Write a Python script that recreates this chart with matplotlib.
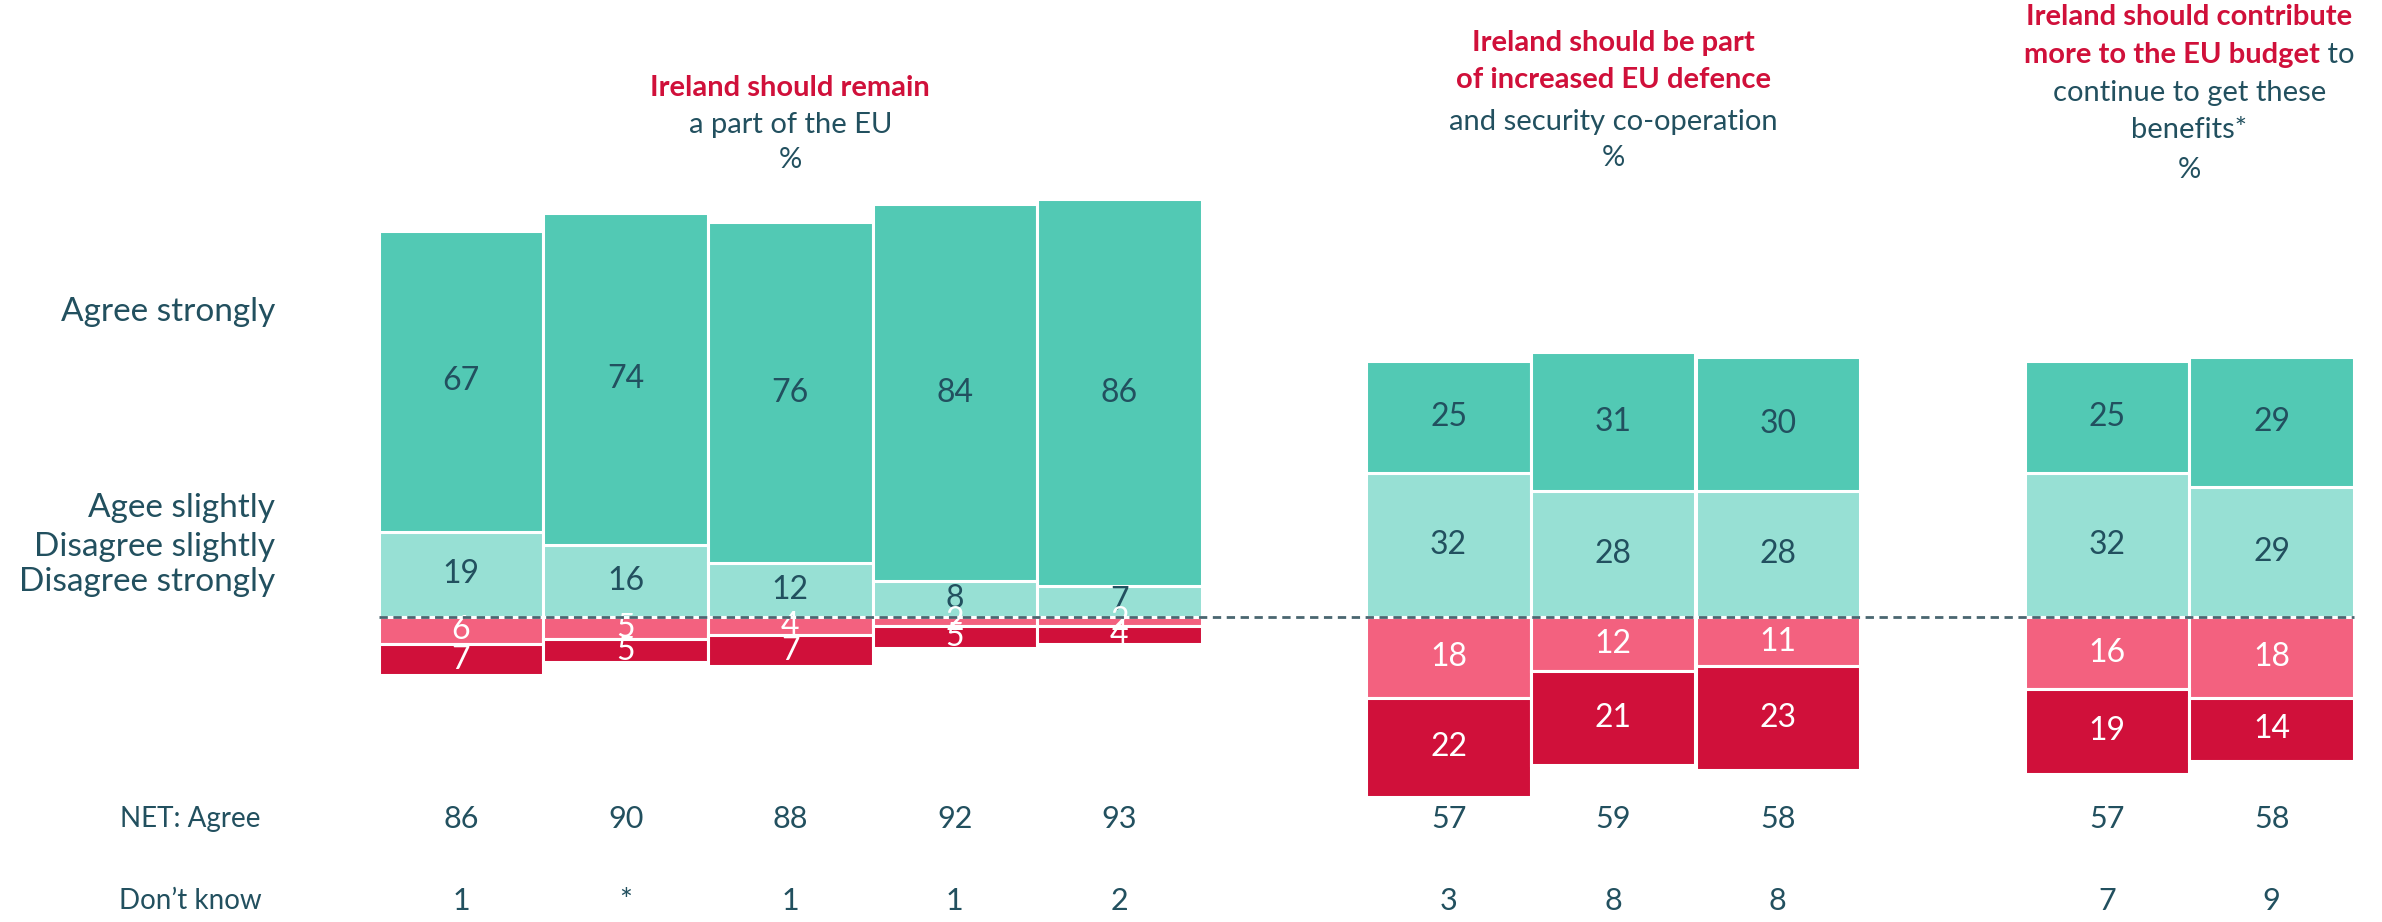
import matplotlib
matplotlib.use("Agg")
import matplotlib.pyplot as plt
from matplotlib.transforms import offset_copy

plt.rcParams['font.family'] = ['Lato', 'DejaVu Sans']

# data
agree_strong = [67, 74, 76, 84, 86, 25, 31, 30, 25, 29]
agree_slight = [19, 16, 12, 8, 7, 32, 28, 28, 32, 29]
dis_slight = [6, 5, 4, 2, 2, 18, 12, 11, 16, 18]
dis_strong = [7, 5, 7, 5, 4, 22, 21, 23, 19, 14]
net_agree = ['86', '90', '88', '92', '93', '57', '59', '58', '57', '58']
dont_know = ['1', '*', '1', '1', '2', '3', '8', '8', '7', '9']
group_sizes = [5, 3, 2]
row_labels = ['Agree strongly', 'Agee slightly', 'Disagree slightly', 'Disagree strongly']

TEAL = '#52C9B4'
LTEAL = '#97E0D4'
PINK = '#F3617F'
RED = '#D0103A'
DARK = '#22505F'

# x positions: one empty slot between groups
xs = []
pos = 0
for g in group_sizes:
    for i in range(g):
        xs.append(pos)
        pos += 1
    pos += 1
centers = []
k = 0
for g in group_sizes:
    centers.append((xs[k] + xs[k + g - 1]) / 2)
    k += g

W, H = 2382, 922
fig = plt.figure(figsize=(W / 100, H / 100), dpi=100)
ax = fig.add_axes([0, 0, 1, 1])
ax.axis('off')

# pixel layout -> data coords
x0_px, dx_px = 461, 164.6
base_px, dy_px = 617, 4.49
ax.set_xlim(-x0_px / dx_px, (W - x0_px) / dx_px)
ax.set_ylim(-(H - base_px) / dy_px, base_px / dy_px)


def py(p):
    return (base_px - p) / dy_px


def px(p):
    return (p - x0_px) / dx_px


kw = dict(width=1.0, edgecolor='white', linewidth=2.2)
ax.bar(xs, agree_slight, color=LTEAL, **kw)
ax.bar(xs, agree_strong, bottom=agree_slight, color=TEAL, **kw)
ax.bar(xs, [-v for v in dis_slight], color=PINK, **kw)
ax.bar(xs, [-v for v in dis_strong], bottom=[-v for v in dis_slight], color=RED, **kw)

fs = 23
nfs = 22
for i, x in enumerate(xs):
    ax.text(x, agree_slight[i] + agree_strong[i] / 2, str(agree_strong[i]), ha='center', va='center', fontsize=fs, color=DARK)
    ax.text(x, agree_slight[i] / 2, str(agree_slight[i]), ha='center', va='center', fontsize=fs, color=DARK)
    ax.text(x, -dis_slight[i] / 2, str(dis_slight[i]), ha='center', va='center', fontsize=fs, color='white')
    ax.text(x, -dis_slight[i] - dis_strong[i] / 2, str(dis_strong[i]), ha='center', va='center', fontsize=fs, color='white')
    ax.text(x, py(819), net_agree[i], ha='center', va='center', fontsize=nfs, color=DARK)
    ax.text(x, py(901), dont_know[i], ha='center', va='center', fontsize=nfs, color=DARK)

ax.plot([xs[0] - 0.5, xs[-1] + 0.5], [0, 0], color='#4A6670', linestyle=(0, (3, 2)), linewidth=2, zorder=5)

# row labels on the left
for lab, yp in zip(row_labels, [312, 508, 547, 582]):
    ax.text(px(275), py(yp), lab, ha='right', va='center', fontsize=24, color=DARK)
ax.text(px(190), py(819), 'NET: Agree', ha='center', va='center', fontsize=20, color=DARK)
ax.text(px(190), py(901), 'Don\u2019t know', ha='center', va='center', fontsize=20, color=DARK)

# titles
tfs = 21
c1, c2, c3 = centers
ax.text(c1, py(88), 'Ireland should remain', ha='center', va='center', fontsize=tfs, color=RED, fontweight='bold')
ax.text(c1, py(125), 'a part of the EU', ha='center', va='center', fontsize=tfs, color=DARK)
ax.text(c1, py(160), '%', ha='center', va='center', fontsize=tfs, color=DARK)

ax.text(c2, py(43), 'Ireland should be part', ha='center', va='center', fontsize=tfs, color=RED, fontweight='bold')
ax.text(c2, py(80), 'of increased EU defence', ha='center', va='center', fontsize=tfs, color=RED, fontweight='bold')
ax.text(c2, py(122), 'and security co-operation', ha='center', va='center', fontsize=tfs, color=DARK)
ax.text(c2, py(158), '%', ha='center', va='center', fontsize=tfs, color=DARK)

ax.text(c3, py(17), 'Ireland should contribute', ha='center', va='center', fontsize=tfs, color=RED, fontweight='bold')
# mixed line: bold part + regular " to", centred together
r = fig.canvas.get_renderer()
ta = ax.text(0, 0, 'more to the EU budget', fontsize=tfs, fontweight='bold')
tb = ax.text(0, 0, ' to', fontsize=tfs)
wa = ta.get_window_extent(r).width
wb = tb.get_window_extent(r).width
ta.remove()
tb.remove()
tr = offset_copy(ax.transData, fig=fig, x=-(wa + wb) / 2, y=0, units='dots')
t1 = ax.text(c3, py(55), 'more to the EU budget', ha='left', va='center', fontsize=tfs, color=RED, fontweight='bold', transform=tr)
ax.annotate(' to', xy=(1, 0), xycoords=t1, ha='left', va='bottom', fontsize=tfs, color=DARK)
ax.text(c3, py(93), 'continue to get these', ha='center', va='center', fontsize=tfs, color=DARK)
ax.text(c3, py(130), 'benefits*', ha='center', va='center', fontsize=tfs, color=DARK)
ax.text(c3, py(170), '%', ha='center', va='center', fontsize=tfs, color=DARK)

fig.savefig('out.png', dpi=100, facecolor='white')
